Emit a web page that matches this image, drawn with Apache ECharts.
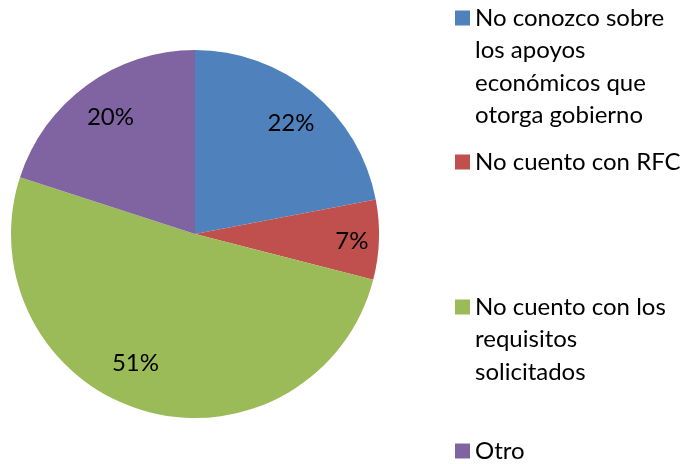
<!DOCTYPE html>
<html>
<head>
<meta charset="utf-8">
<script src="https://cdn.jsdelivr.net/npm/echarts@6/dist/echarts.min.js"></script>
<style>
  html, body { margin: 0; padding: 0; background: #fff; }
  #main { width: 683px; height: 464px; }
</style>
</head>
<body>
<div id="main"></div>
<script>
var categories = [
  'No conozco sobre los apoyos económicos que otorga gobierno',
  'No cuento con RFC',
  'No cuento con los requisitos solicitados',
  'Otro'
];
var legendLines = [
  ['No conozco sobre', 'los apoyos', 'económicos que', 'otorga gobierno'],
  ['No cuento con RFC'],
  ['No cuento con los', 'requisitos', 'solicitados'],
  ['Otro']
];
var values = [22, 7, 51, 20];
var colors = ['#4F81BD', '#C0504D', '#9BBB59', '#8064A2'];

var FONT = 'Lato';
var FS = 24;
var lh = 32.5;
var iconY = [18, 162, 307, 451];  // centre of each legend square
// small nudges so the % labels sit where excel put them
var labelOffsets = [[1, 4], [8, 3], [-18, -14], [3, 4]];

var chart = echarts.init(document.getElementById('main'));

var pieData = categories.map(function (c, i) {
  return { name: c, value: values[i], itemStyle: { color: colors[i] } };
});

// legend text is centred on the icon, so pad with empty lines on top
// to line the first line up with the square
var legends = categories.map(function (c, i) {
  var n = legendLines[i].length;
  var pad = [];
  for (var k = 1; k < n; k++) pad.push('');
  return {
    orient: 'vertical',
    left: 455,
    top: iconY[i] - (2 * n - 1) * lh / 2,
    padding: 0,
    itemWidth: 15,
    itemHeight: 15,
    itemGap: 0,
    icon: 'rect',
    selectedMode: false,
    data: [c],
    formatter: function () { return pad.concat(legendLines[i]).join('\n'); },
    textStyle: {
      fontFamily: FONT,
      fontSize: FS,
      lineHeight: lh,
      color: '#000'
    }
  };
});

var option = {
  animation: false,
  legend: legends,
  series: [{
    type: 'pie',
    center: [195, 234],
    radius: 184,
    startAngle: 90,
    clockwise: true,
    label: { show: false },
    labelLine: { show: false },
    emphasis: { disabled: true },
    data: pieData
  }, {
    // transparent copy only used to place the percent labels further out
    type: 'pie',
    center: [195, 234],
    radius: 292,
    startAngle: 90,
    clockwise: true,
    silent: true,
    itemStyle: { color: 'rgba(0,0,0,0)' },
    label: {
      show: true,
      position: 'inside',
      formatter: '{c}%',
      fontFamily: FONT,
      fontSize: FS,
      color: '#000'
    },
    labelLine: { show: false },
    data: categories.map(function (c, i) {
      return { name: c, value: values[i], label: { offset: labelOffsets[i] } };
    })
  }]
};

chart.setOption(option);
</script>
</body>
</html>
